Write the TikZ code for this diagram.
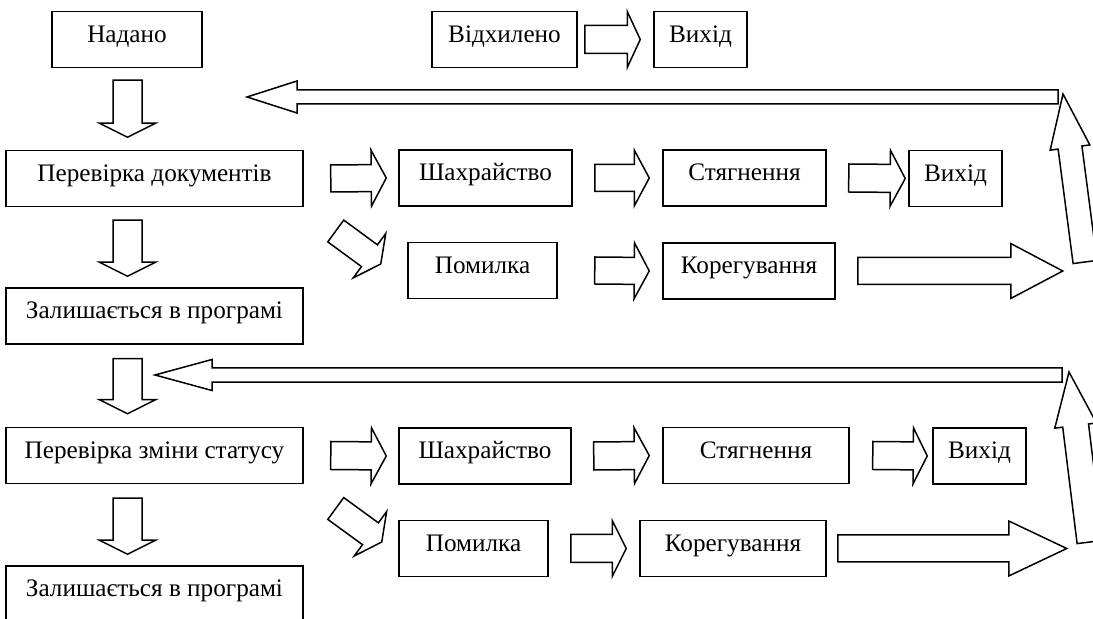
\documentclass[tikz,border=0pt]{standalone}
\usepackage{fontspec}
\setmainfont{Liberation Serif}
\usepackage{tikz}
\usetikzlibrary{calc}

\newcommand{\barrow}[5]{%
  \coordinate (ba) at #1;
  \coordinate (bb) at #2;
  \coordinate (bm) at ($(bb)!#5!(ba)$);
  \draw[blk] ($(ba)!#3!90:(bb)$) -- ($(bm)!#3!90:(bb)$) -- ($(bm)!#4!90:(bb)$) -- (bb)
    -- ($(bm)!#4!-90:(bb)$) -- ($(bm)!#3!-90:(bb)$) -- ($(ba)!#3!-90:(bb)$) -- cycle;
}

\begin{document}
\begin{tikzpicture}[x=0.5pt,y=-0.5pt,
  box/.style={draw,line width=0.75pt,inner sep=0pt,text height=15.5pt,text depth=12.5pt,
    font=\fontsize{12.6pt}{15pt}\selectfont},
  blk/.style={draw,line width=0.75pt,fill=white,line join=miter}]
\useasboundingbox (0,0) rectangle (1093,619);

\node[box,minimum width=75pt] (nadano) at (127,39.5) {Надано};
\node[box,minimum width=72.5pt] (vidkh) at (504.5,39.5) {Відхилено};
\node[box,minimum width=46.5pt] (vykh0) at (700.5,39.5) {Вихід};
\node[box,minimum width=148.5pt] (perev1) at (154.5,178.5) {Перевірка документів};
\node[box,minimum width=86.5pt] (shakh1) at (485.5,178) {Шахрайство};
\node[box,minimum width=81.5pt] (styag1) at (744.5,178) {Стягнення};
\node[box,minimum width=46.5pt] (vykh1) at (955.5,178.5) {Вихід};
\node[box,minimum width=74.5pt] (pomyl1) at (482.5,270.5) {Помилка};
\node[box,minimum width=86pt] (koreg1) at (749,271) {Корегування};
\node[box,minimum width=148.5pt] (zalysh1) at (154.5,316) {Залишається в програмі};
\node[box,minimum width=148.5pt] (perev2) at (154.5,455.5) {Перевірка зміни статусу};
\node[box,minimum width=86pt] (shakh2) at (485,456) {Шахрайство};
\node[box,minimum width=93pt] (styag2) at (756,455.5) {Стягнення};
\node[box,minimum width=46.5pt] (vykh2) at (979.5,456) {Вихід};
\node[box,minimum width=74.5pt] (pomyl2) at (473.5,548.5) {Помилка};
\node[box,minimum width=93pt] (koreg2) at (733,548.5) {Корегування};
\node[box,minimum width=148.5pt] (zalysh2) at (154.5,594) {Залишається в програмі};

\coordinate (ret1s) at (1058,97);
\coordinate (ret1e) at (247,97);
\coordinate (ret2s) at (1062,375);
\coordinate (ret2e) at (155,375);
\coordinate (up1b) at (1085,262);
\coordinate (up1t) at (1063,94);
\coordinate (up2b) at (1090,542);
\coordinate (up2t) at (1069,372);

\barrow{($(nadano.south)+(0.5,12)$)}{($(nadano.south)+(0.5,69)$)}{7.25pt}{14pt}{7pt}
\barrow{($(perev1.south)+(-27,13)$)}{($(perev1.south)+(-27,69)$)}{7.25pt}{14pt}{7pt}
\barrow{($(zalysh1.south)+(-27,14)$)}{($(zalysh1.south)+(-27,69)$)}{7.25pt}{14pt}{7pt}
\barrow{($(perev2.south)+(-27,14)$)}{($(perev2.south)+(-27,70)$)}{7.25pt}{14pt}{7pt}

\barrow{($(vidkh.east)+(7,0)$)}{($(vykh0.west)+(-13,0)$)}{7pt}{14pt}{6.5pt}
\barrow{($(perev1.east)+(27,0)$)}{($(shakh1.west)+(-12,0)$)}{6.75pt}{14pt}{7.5pt}
\barrow{($(shakh1.east)+(22,0)$)}{($(styag1.west)+(-13,0)$)}{6.75pt}{14pt}{7.5pt}
\barrow{($(styag1.east)+(22,0)$)}{($(vykh1.west)+(-3,0)$)}{7pt}{14pt}{7.5pt}
\barrow{($(pomyl1.east)+(37,0)$)}{($(koreg1.west)+(-13,0)$)}{6.75pt}{14pt}{7.5pt}
\barrow{($(perev2.east)+(27,0)$)}{($(shakh2.west)+(-12,0)$)}{7pt}{14pt}{7.5pt}
\barrow{($(shakh2.east)+(22,0)$)}{($(styag2.west)+(-13,0)$)}{7pt}{14pt}{7.5pt}
\barrow{($(styag2.east)+(23,0)$)}{($(vykh2.west)+(-5,0)$)}{7pt}{14pt}{7pt}
\barrow{($(pomyl2.east)+(22,0)$)}{($(koreg2.west)+(-13,0)$)}{7pt}{14pt}{7pt}

\barrow{($(perev1.east)+(32,52.5)$)}{($(perev1.east)+(77,85.5)$)}{6.75pt}{13.75pt}{7pt}
\barrow{($(perev2.east)+(32,53)$)}{($(perev2.east)+(78,86.5)$)}{6.75pt}{13.75pt}{7pt}

\barrow{($(koreg1.east)+(22,0)$)}{($(koreg1.east)+(227,0)$)}{6.75pt}{13.75pt}{26pt}
\barrow{($(koreg2.east)+(11,0)$)}{($(koreg2.east)+(240,0)$)}{6.75pt}{13.75pt}{29pt}

\barrow{(up1b)}{(up1t)}{6pt}{10pt}{27pt}
\barrow{(up2b)}{(up2t)}{6.5pt}{10.5pt}{27pt}

\barrow{(ret1s)}{(ret1e)}{3.5pt}{8pt}{25pt}
\barrow{(ret2s)}{(ret2e)}{3.6pt}{7.75pt}{28.5pt}
\end{tikzpicture}
\end{document}
